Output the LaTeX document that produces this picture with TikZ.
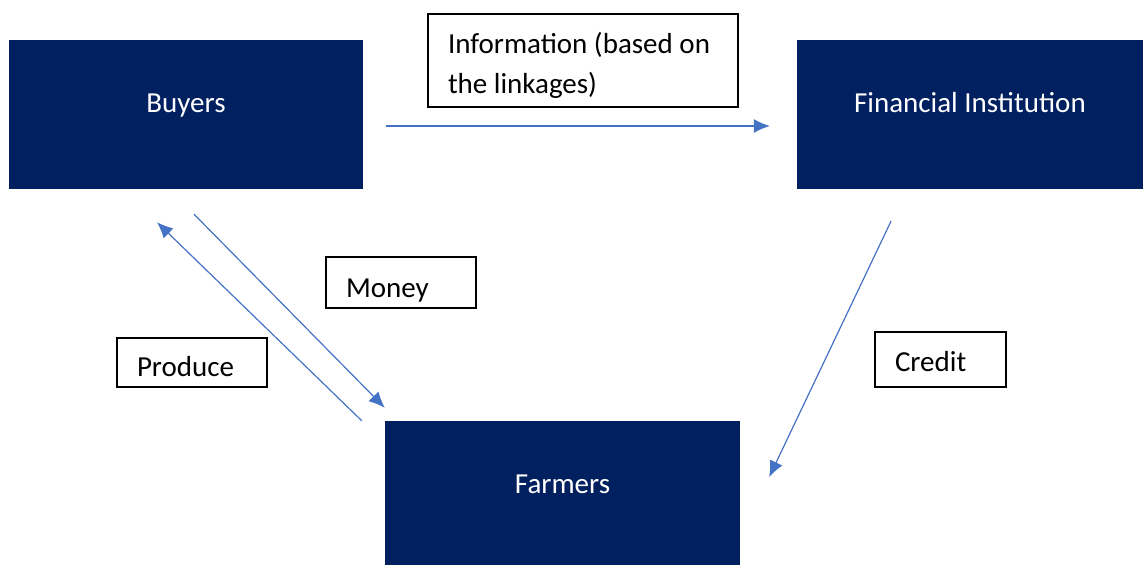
\documentclass[tikz,border=0pt]{standalone}
\usepackage{fontspec}
\setmainfont{Carlito}
\usepackage{tikz}
\usetikzlibrary{calc, arrows.meta}
\definecolor{navy}{HTML}{002060}
\definecolor{flowblue}{HTML}{4472C4}

\begin{document}
\begin{tikzpicture}[x=1pt, y=-1pt,
					ActorNode/.style={rectangle, fill=navy, text=white, inner sep=0pt, font=\fontsize{29}{38}\selectfont},
					TagNode/.style={rectangle, draw=black, line width=1.5pt, inner xsep=20pt, inner ysep=0pt, align=flush left, font=\fontsize{29}{38}\selectfont},
					FlowArrow/.style={draw=flowblue, line width=1.2pt, -{Latex[length=16pt, width=14pt]}}]

				\useasboundingbox (0,0) rectangle (1143,565);

				\node[ActorNode, minimum width=354, minimum height=149, text height=17, text depth=22] (Buyers) at (186,114.5) {Buyers};
				\node[ActorNode, minimum width=346, minimum height=149, text height=17, text depth=22] (FinInst) at (970,114.5) {Financial Institution};
				\node[ActorNode, minimum width=355, minimum height=144, text height=20, text depth=20] (Farmers) at (562.5,493) {Farmers};

				\node[TagNode, text width=270, minimum height=93, inner ysep=4pt] (Info) at (583,60.5) {\rule{0pt}{30pt}Information (based on\\[2pt]the linkages)};
				\node[TagNode, text width=110, minimum height=51, text height=30, text depth=1] (Money) at (401,282.5) {Money};
				\node[TagNode, text width=110, minimum height=49, text height=28, text depth=1] (Produce) at (192,362.5) {Produce};
				\node[TagNode, text width=91, minimum height=55, text height=24, text depth=1] (Credit) at (940.5,359.5) {Credit};

				\draw[FlowArrow] ($(Buyers.east) + (23, 11.5)$) -- ($(FinInst.west) + (-27, 11.5)$);
				\draw[FlowArrow] ($(Buyers.south) + (8, 25)$) -- ($(Farmers.north west) + (0, -13)$);
				\draw[FlowArrow] ($(Farmers.north west) + (-23, 0)$) -- ($(Buyers.south) + (-29, 33)$);
				\draw[FlowArrow] ($(FinInst.south) + (-79, 32)$) -- ($(Farmers.east) + (29, -16)$);
			\end{tikzpicture}
\end{document}
